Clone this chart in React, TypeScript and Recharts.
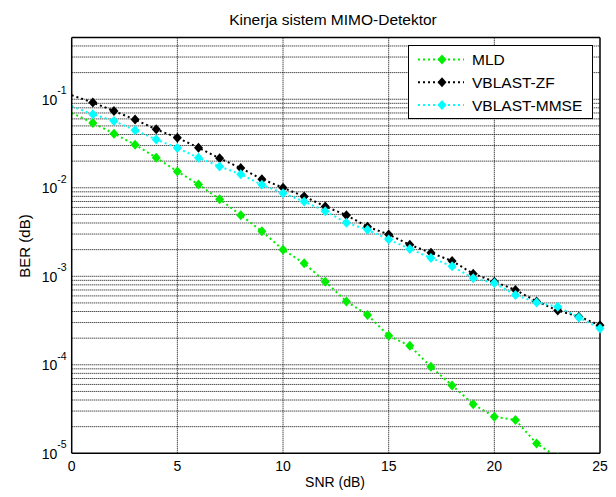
import { LineChart, Line, XAxis, YAxis, ReferenceLine } from "recharts";

const snr = [0, 1, 2, 3, 4, 5, 6, 7, 8, 9, 10, 11, 12, 13, 14, 15, 16, 17, 18, 19, 20, 21, 22, 23, 24, 25];

const mld = [
  0.07, 0.054, 0.0409, 0.0307, 0.0219, 0.0153, 0.0109, 0.00743, 0.0049, 0.00323, 0.002, 0.0014, 0.00087,
  0.00052, 0.000366, 0.000213, 0.000164, 0.0000949, 0.0000585, 0.0000359, 0.0000258, 0.0000238, 0.0000129,
  0.000009, null, null,
];
const vblastZf = [
  0.111, 0.092, 0.0738, 0.0589, 0.0457, 0.0368, 0.0284, 0.0215, 0.0167, 0.0125, 0.01, 0.00797, 0.00615,
  0.0049, 0.00363, 0.00297, 0.00227, 0.00184, 0.00149, 0.00107, 0.00087, 0.0007, 0.00052, 0.00041, 0.00035,
  0.00028,
];
const vblastMmse = [
  0.0833, 0.0676, 0.0569, 0.0446, 0.0352, 0.0281, 0.0219, 0.0174, 0.0142, 0.0108, 0.0087, 0.007, 0.00544,
  0.00402, 0.00335, 0.0026, 0.00204, 0.00161, 0.0013, 0.00095, 0.00084, 0.000614, 0.000507, 0.000452,
  0.000343, 0.000257,
];

const xTicks = [0, 5, 10, 15, 20, 25];
const xGrid = [5, 10, 15, 20];
const yTicks = [1e-5, 1e-4, 1e-3, 1e-2, 1e-1];
const yDomain = [1e-5, 0.5];
// minor grid: 1..9 times each decade, up to 0.5
const yGrid = [1e-5, 1e-4, 1e-3, 1e-2, 1e-1].flatMap((d) =>
  [1, 2, 3, 4, 5, 6, 7, 8, 9].map((m) => m * d).filter((v) => v > 1e-5 && v < 0.5)
);

const series = [
  { key: "mld", name: "MLD", color: "#00ee00" },
  { key: "zf", name: "VBLAST-ZF", color: "#000000" },
  { key: "mmse", name: "VBLAST-MMSE", color: "#00ffff" },
];

const data = snr.map((s, i) => ({ snr: s, mld: mld[i], zf: vblastZf[i], mmse: vblastMmse[i] }));

const FONT = "'Liberation Sans', Arial, Helvetica, sans-serif";

const diamond = (cx: number, cy: number, color: string, key?: any) => (
  <polygon
    key={key}
    points={`${cx},${cy - 5} ${cx + 4.5},${cy} ${cx},${cy + 5} ${cx - 4.5},${cy}`}
    fill={color}
  />
);

const makeDot = (color: string) => (props: any) => {
  const { cx, cy, index, key } = props;
  if (index === 0 || cx == null || cy == null) return <g key={key ?? index} />;
  return diamond(cx, cy, color, key ?? index);
};

const YTick = (props: any) => {
  const { x, y, payload } = props;
  const exp = Math.round(Math.log10(payload.value));
  return (
    <text x={x - 5} y={y + 5.5} textAnchor="end" fontSize={14} fontFamily={FONT} fill="#000">
      10
      <tspan dy={-10.5} fontSize={10.5}>
        {exp}
      </tspan>
    </text>
  );
};

const XTick = (props: any) => {
  const { x, y, payload } = props;
  return (
    <text x={x} y={y + 18} textAnchor="middle" fontSize={14} fontFamily={FONT} fill="#000">
      {payload.value}
    </text>
  );
};

const LegendBox = () => (
  <div
    style={{
      position: "absolute",
      left: 408,
      top: 45,
      width: 185,
      height: 74,
      border: "1px solid #000",
      background: "#fff",
      boxSizing: "border-box",
    }}
  >
    <svg width={183} height={72} style={{ display: "block" }}>
      {series.map((s, i) => {
        const y = 13.5 + i * 22.8;
        return (
          <g key={s.key}>
            <line x1={9} x2={55} y1={y} y2={y} stroke={s.color} strokeWidth={2} strokeDasharray="2 3" />
            {diamond(33, y, s.color)}
            <text x={63} y={y + 5.5} fontSize={15.5} fontFamily={FONT} fill="#000">
              {s.name}
            </text>
          </g>
        );
      })}
    </svg>
  </div>
);

export default function App() {
  return (
    <div style={{ position: "absolute", left: 0, top: 0, width: 616, height: 497, background: "#fff" }}>
      <LineChart
        width={616}
        height={497}
        data={data}
        margin={{ top: 37.4, right: 16, bottom: 13.7, left: 11.7 }}
      >
        {yGrid.map((v) => (
          <ReferenceLine key={`gy${v}`} y={v} stroke="#000" strokeWidth={1} strokeDasharray="1 1" />
        ))}
        {xGrid.map((v) => (
          <ReferenceLine key={`gx${v}`} x={v} stroke="#000" strokeWidth={1} strokeDasharray="1 1" />
        ))}
        <ReferenceLine y={0.5} stroke="#000" strokeWidth={1.5} />
        <ReferenceLine x={25} stroke="#000" strokeWidth={1.5} />
        <XAxis
          dataKey="snr"
          type="number"
          domain={[0, 25]}
          ticks={xTicks}
          height={30}
          tickSize={0}
          tickMargin={0}
          tickLine={false}
          axisLine={{ stroke: "#000", strokeWidth: 1.5 }}
          tick={<XTick />}
          interval={0}
        />
        <YAxis
          scale="log"
          type="number"
          domain={yDomain}
          allowDataOverflow
          ticks={yTicks}
          width={60}
          tickSize={0}
          tickMargin={0}
          tickLine={false}
          axisLine={{ stroke: "#000", strokeWidth: 1.5 }}
          tick={<YTick />}
          interval={0}
        />
        {series.map((s) => (
          <Line
            key={s.key}
            dataKey={s.key}
            name={s.name}
            stroke={s.color}
            strokeWidth={2}
            strokeDasharray="2 3"
            dot={makeDot(s.color)}
            activeDot={false}
            connectNulls={false}
            isAnimationActive={false}
          />
        ))}
      </LineChart>
      <LegendBox />
      <svg
        width={616}
        height={497}
        style={{ position: "absolute", left: 0, top: 0, pointerEvents: "none" }}
      >
        <text x={333} y={25} textAnchor="middle" fontSize={15.5} fontFamily={FONT} fill="#000">
          Kinerja sistem MIMO-Detektor
        </text>
        <text x={335} y={487} textAnchor="middle" fontSize={14} fontFamily={FONT} fill="#000">
          SNR (dB)
        </text>
        <text
          x={30}
          y={246}
          textAnchor="middle"
          fontSize={15}
          fontFamily={FONT}
          fill="#000"
          transform="rotate(-90 30 246)"
        >
          BER (dB)
        </text>
      </svg>
    </div>
  );
}
